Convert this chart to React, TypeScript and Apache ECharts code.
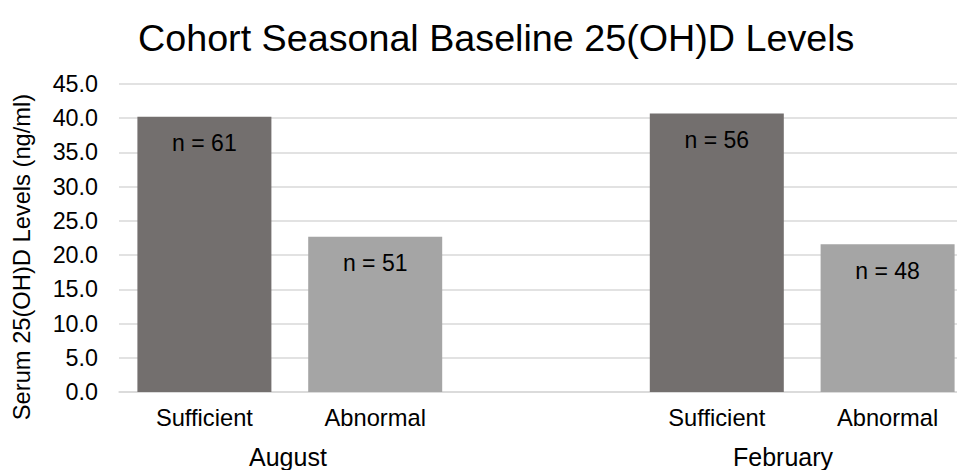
import React, { useEffect, useRef } from "react";
import * as echarts from "echarts";

const categories = ["Sufficient", "Abnormal", "", "Sufficient", "Abnormal"];
const values: (number | null)[] = [40.2, 22.7, null, 40.7, 21.6];
const sampleSizes: (number | null)[] = [61, 51, null, 56, 48];
const groupNames = ["August", "February"];
const yTicks = { min: 0, max: 45, interval: 5 };
const barColors = ["#736F6E", "#A5A5A5", "#A5A5A5", "#736F6E", "#A5A5A5"];

const FONT = "'Liberation Sans', Arial, Helvetica, sans-serif";

export default function App() {
  const ref = useRef<HTMLDivElement>(null);
  useEffect(() => {
    if (!ref.current) return;
    const chart = echarts.init(ref.current, undefined, { renderer: "svg" });
    chart.setOption({
      animation: false,
      backgroundColor: "#ffffff",
      textStyle: { fontFamily: FONT },
      title: {
        text: "Cohort Seasonal Baseline 25(OH)D Levels",
        left: 133,
        top: 14,
        textStyle: { fontFamily: FONT, fontSize: 37.7, fontWeight: "normal", color: "#000" },
      },
      grid: {
        left: 119,
        top: 84,
        right: -16,
        height: 308,
        containLabel: false,
        outerBoundsMode: "none",
      },
      xAxis: {
        type: "category",
        data: categories,
        axisTick: { show: false },
        axisLine: { lineStyle: { color: "#D9D9D9", width: 1.5 } },
        axisLabel: { fontFamily: FONT, fontSize: 23.7, color: "#000", margin: 14, interval: 0 },
      },
      yAxis: {
        type: "value",
        min: yTicks.min,
        max: yTicks.max,
        interval: yTicks.interval,
        axisLine: { show: false },
        axisTick: { show: false },
        splitLine: { lineStyle: { color: "#D9D9D9", width: 1.5 } },
        axisLabel: {
          fontFamily: FONT,
          fontSize: 23.3,
          color: "#000",
          margin: 21,
          formatter: (v: number) => v.toFixed(1),
        },
      },
      graphic: [
        {
          type: "text",
          x: 22,
          y: 257,
          rotation: Math.PI / 2,
          style: {
            text: "Serum 25(OH)D Levels (ng/ml)",
            font: `23.7px ${FONT}`,
            fill: "#000",
            align: "center",
            verticalAlign: "middle",
          },
        },
        {
          type: "text",
          left: 290 - 41,
          top: 444,
          style: { text: groupNames[0], font: `25px ${FONT}`, fill: "#000" },
        },
        {
          type: "text",
          left: 786 - 53,
          top: 444,
          style: { text: groupNames[1], font: `25px ${FONT}`, fill: "#000" },
        },
      ],
      series: [
        {
          type: "bar",
          barWidth: 134,
          data: values.map((v, i) => ({
            value: v,
            itemStyle: { color: barColors[i] },
          })),
          label: {
            show: true,
            position: "insideTop",
            distance: 15,
            fontFamily: FONT,
            fontSize: 23,
            color: "#000",
            formatter: (p: any) => {
              const n = sampleSizes[p.dataIndex];
              return n == null ? "" : `n = ${n}`;
            },
          },
        },
      ],
    });
    return () => chart.dispose();
  }, []);
  return (
    <div
      ref={ref}
      style={{ position: "absolute", left: 0, top: 0, width: 957, height: 470 }}
    />
  );
}
